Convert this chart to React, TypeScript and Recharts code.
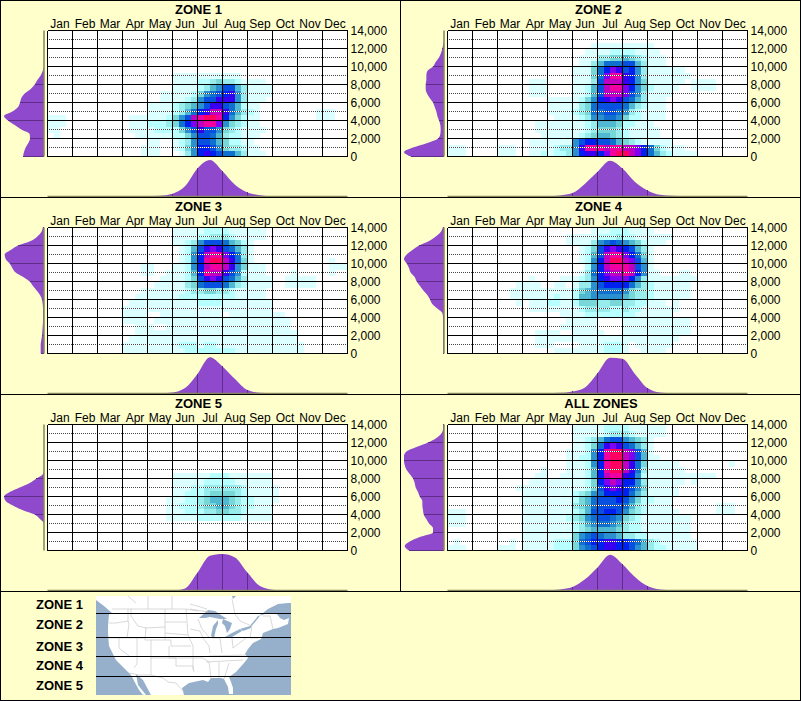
import { ComposedChart, AreaChart, Area, Bar, Cell, XAxis, YAxis, ReferenceLine } from "recharts";

const FONT = "'Liberation Sans', Arial, sans-serif";
const months = ["Jan", "Feb", "Mar", "Apr", "May", "Jun", "Jul", "Aug", "Sep", "Oct", "Nov", "Dec"];
const monthTicks = [0.5, 1.5, 2.5, 3.5, 4.5, 5.5, 6.5, 7.5, 8.5, 9.5, 10.5, 11.5];
const monthLines = [0, 1, 2, 3, 4, 5, 6, 7, 8, 9, 10, 11, 12];
const elevTicks = [0, 2000, 4000, 6000, 8000, 10000, 12000, 14000];
const elevDotted = [1000, 3000, 5000, 7000, 9000, 11000, 13000];
const elevSteps = [0, 500, 1000, 1500, 2000, 2500, 3000, 3500, 4000, 4500, 5000, 5500, 6000, 6500, 7000, 7500, 8000, 8500, 9000, 9500, 10000, 10500, 11000, 11500, 12000, 12500, 13000, 13500, 14000];
const monthSteps = [0, 0.5, 1, 1.5, 2, 2.5, 3, 3.5, 4, 4.5, 5, 5.5, 6, 6.5, 7, 7.5, 8, 8.5, 9, 9.5, 10, 10.5, 11, 11.5, 12];

// colour ramp, index is the digit used in the rows below (base 15)
const ramp = ["#ffffff", "#dcffff", "#b8ffff", "#98ecec", "#78d8d8", "#50b8d0", "#2a90d0", "#1070d0", "#0850e0", "#0020f0", "#3800f0", "#8000f0", "#c000c0", "#f000a0", "#ff0060"];

// heat rows, top (14,000) to bottom (0), 12 groups of 4 cells per month
const zone1Rows = [
  "", "", "", "", "", "", "",
  ".... .... .... .... .... 1111 1111 111.",
  ".... .... .... .... .... 1111 2234 3321 111.",
  ".... .... .... .... .... 1111 2356 8853 1111",
  ".... .... .... .... ..11 1112 4678 9a63 1111",
  ".... .... .... .... ..11 1123 688a aa63 111.",
  ".... .... .... .... 1111 2345 68aa 8752 11..",
  ".... .... .... .... 1111 2357 9acc a753 21.. .... ...1 11..",
  "111. .... .... .111 1112 468c deed 9642 11.. .... ...1 11..",
  "111. .... .... .111 2223 479b cddb 6432 11..",
  "11.. .... .... .111 1222 2468 a886 4321 111.",
  ".1.. .... .... ..11 1111 2246 8875 3221 11..",
  ".... .... .... .... 11.. 1236 8875 4221 1...",
  ".... .... .... ...1 11.. 1246 9986 4332 11..",
  ".... .... .... ...1 11.. .136 9a98 7753 111.",
];
const zone2Rows = [
  "", "",
  ".... .... .... .... .... ...1 1111 1111 1...",
  ".... .... .... .... .... ..11 1122 2211 11..",
  ".... .... .... .... .... .111 3344 5432 111.",
  ".... .... .... .... .... .113 5777 8853 111.",
  ".... .... .... .... .... 1114 79ba 8963 1111 11..",
  ".... .... .... .... .... 1114 7bdd a963 1111 111.",
  ".... .... .... .111 .... 1113 8ccc a964 1111 11.1 111.",
  ".... .... .... .111 .... 1125 8cdd b964 2111 1..1 111.",
  ".... .... .... .111 .... 1125 8ccc b863 1111",
  ".... .... .... .... 1111 1246 9aba 8753 111.",
  ".... .... .... .... 1111 1347 8888 7532 111.",
  ".... .... .... .... 1111 2347 7887 6321 111.",
  ".... .... .... .... .111 1236 6776 4221 111.",
  ".... .... .... ..11 1111 1123 5554 2211 1...",
  ".... .... .... ..11 1111 1123 4443 2111 11..",
  ".... .... .... ...1 1111 1234 5543 2111 11..",
  ".... .... .... .111 1111 6899 8875 4321 1111",
  "111. .... 111. .111 1233 6add dcdd ccb9 7421 11..",
  "111. .... 111. .112 1223 69aa 9bde ecb9 7532 1111",
];
const zone3Rows = [
  ".... .... .... .... .... 1111 1222 2111 111.",
  ".... .... .... .... .... 1111 2233 3211 111.",
  ".... .... .... .... .... 1123 6888 7542 1...",
  ".... .... .... .... .... .125 8aba 8753 1...",
  ".... .... .... .... .... .126 9cdd b973 1...",
  ".... .... .... .... .... .126 9dee ca74 1... .... .... .1..",
  ".... .... .... ...1 1... 1126 9cdd ca64 111. .... .... .111",
  ".... .... .... ...1 1..1 1125 9dcc a862 111. ...1 .... .1..",
  ".... .... .... .... ..11 1124 8aba 8753 1111 ..11 111.",
  ".... .... .... .... .111 1134 7888 7532 1111 ..11 111.",
  ".... .... .... ...1 1111 1123 3443 3211 111.",
  ".... .... .... ..11 1111 1222 2222 2211 111.",
  ".... .... .... .111 1111 1111 2222 1111 1111",
  ".... .... .... 1111 1111 1111 1111 1111 1111",
  ".... .... .... 1111 ..11 1111 1111 .111 1111 11..",
  ".... .... .... 1111 .111 1111 1111 1111 1111 111.",
  ".... .... .... ..11 1..1 1111 1111 1111 1111 111.",
  ".... .... .... ..11 1111 1111 1111 1111 1111 1111",
  ".... .... .... .111 1111 1111 1111 1111 1111 1111",
  ".... .... .... 1111 1111 1222 1221 1111 1111 1111 1...",
  ".... .... .... 1111 1111 1122 2222 2211 1111 1111 1...",
];
const zone4Rows = [
  ".... .... .... .... .... ...1 1122 2111 1...",
  ".... .... .... .... ...1 1111 2223 2211 1111",
  ".... .... .... .... ...1 1113 6787 6542 111.",
  ".... .... .... .... .... .124 8aba 9853 1...",
  ".... .... .... .... .... .125 8cdd b974 1...",
  ".... .... .... .... .... .126 9cee cb85 1...",
  ".... .... .... .... .... ..26 9cdd dc86 1...",
  ".... .... .... .... .... .137 9bcc dc96 11.. .11.",
  ".... .... .... .1.. ..11 1236 9abb b963 1111 1111",
  ".... .... ...1 111. .11. 1336 8999 9753 2111 111.",
  ".... .... ..11 1111 1111 2456 7777 6433 2111 111.",
  ".... .... ..11 1111 1211 2556 6666 5433 2111 111.",
  ".... .... ...1 .111 2211 2444 3344 3322 111. 1...",
  ".... .... .... .111 1111 1233 3322 3221 1111 1...",
  ".... .... .... .... ..11 1122 2222 2211 1111",
  ".... .... .... .... ...1 1111 .... 1111 1111 111.",
  ".... .... .... .... ..11 1111 .... 1111 1111 111.",
  ".... .... .... ..11 11.. 1111 1... 1111 1111 111.",
  ".... .... .... ..11 1111 1111 1111 1111 1111 1...",
  ".... .... .... ..11 1... .111 1222 1.11 1111",
  ".... .... .... .... .111 1111 1222 1..1 111.",
];
const zone5Rows = [
  "", "", "", "", "", "", "", "",
  ".... .... .... .... .... 1111 1122 2111 1111",
  ".... .... .... .... .... 1111 1222 2211 1111",
  ".... .... .... .... .... 1112 2333 3332 1111 1...",
  ".... .... .... .... .... 1122 2344 4432 1111 1...",
  ".... .... .... .... ...1 1122 3455 5432 2111 1...",
  ".... .... .... .... ...1 1222 3445 5432 2111",
  ".... .... .... .... ...1 1122 2334 4332 1111",
  ".... .... .... .... ...1 1111 2222 2221 1111",
  "", "", "", "", "",
];
const allRows = [
  ".... .... .... .... .... 1111 1222 2111 111.",
  ".... .... .... .... .... 1111 1233 3211 111.",
  ".... .... .... .... .... 1123 5788 6543 1...",
  ".... .... .... .... .... 1124 7aba 8753 1...",
  ".... .... .... .... ...1 1126 9dee cb85 1...",
  ".... .... .... .... ...1 1226 9dee cb85 11..",
  ".... .... .... .... ...1 1126 9dee ca74 1111 1... .... .1..",
  ".... .... .... ...1 ...1 1125 9dee ca73 1111 11..",
  ".... .... .... ..11 ..11 1125 9cdd a962 1111 1111 111.",
  ".... .... .... .111 1111 1124 9bcb 9963 1111 11.1",
  ".... .... ...1 1111 1111 1124 8aba 9864 1111 1...",
  ".... .... .... 1111 1111 2346 7999 9753 1111 1...",
  ".... .... .... 1111 1111 2457 8889 8642 2111",
  ".... .... .... 1111 1111 3457 8888 7532 1111 .... ...1 11..",
  "111. .... .... 1111 1111 2358 8998 6432 1111 1... ...1 11..",
  "111. .... .... 1111 1112 3467 8876 4321 1111 111.",
  "111. .... .... 1111 1111 2356 7765 3221 1111 111.",
  ".... .... .... 1111 1111 2345 5554 3221 1111 111.",
  ".... .... .... 1111 1111 4678 7665 3322 1111 111.",
  ".1.. .... ..1. 1111 1222 4789 9aa9 9875 3211 1111",
  "111. .... 111. 1111 1222 4678 9aa9 9865 3221 1111",
];

// left-hand profile, 0 ft upward in 500 ft steps
const zone1Left = [63, 60, 55, 47, 42, 43, 68, 88, 108, 120, 95, 78, 72, 68, 58, 40, 28, 20, 10, 4, 0, 0, 0, 0, 0, 0, 0, 0, 0];
const zone2Left = [100, 120, 93, 50, 18, 11, 10, 11, 15, 20, 23, 28, 33, 43, 51, 55, 55, 53, 53, 50, 33, 25, 15, 9, 5, 2, 0, 0, 0];
const zone3Left = [10, 10, 10, 8, 6, 5, 4, 3, 3, 3, 3, 4, 6, 12, 22, 33, 43, 62, 85, 95, 103, 115, 118, 100, 78, 40, 20, 8, 4];
const zone4Left = [3, 3, 3, 3, 3, 3, 3, 3, 3, 5, 20, 35, 42, 50, 62, 72, 82, 88, 100, 105, 112, 120, 112, 95, 75, 45, 25, 10, 4];
const zone5Left = [0, 0, 0, 0, 0, 0, 0, 12, 28, 65, 93, 115, 120, 103, 73, 43, 23, 3, 0, 0, 0, 0, 0, 0, 0, 0, 0, 0, 0];
const allLeft = [105, 118, 103, 73, 33, 33, 45, 53, 61, 63, 65, 65, 73, 78, 85, 88, 93, 103, 113, 118, 120, 120, 113, 83, 48, 23, 8, 3, 3];

// bottom profile, half-month steps
const zone1Bottom = [0, 0, 0, 0, 0, 0, 0, 0, 1, 2, 8, 30, 83, 108, 75, 35, 12, 4, 1, 0, 0, 0, 0, 0, 0];
const zone2Bottom = [0, 0, 0, 0, 0, 0, 0, 0, 1, 3, 10, 38, 73, 106, 83, 43, 18, 5, 2, 1, 0, 0, 0, 0, 0];
const zone3Bottom = [0, 0, 0, 0, 0, 0, 0, 0, 1, 1, 3, 16, 58, 107, 80, 43, 10, 2, 1, 1, 0, 0, 0, 0, 0];
const zone4Bottom = [0, 0, 0, 0, 0, 0, 0, 0, 1, 2, 6, 18, 60, 106, 103, 58, 16, 3, 1, 1, 0, 0, 0, 0, 0];
const zone5Bottom = [0, 0, 0, 0, 0, 0, 0, 0, 0, 0, 0, 6, 53, 103, 108, 98, 53, 13, 2, 0, 0, 0, 0, 0, 0];
const allBottom = [0, 0, 0, 0, 0, 0, 0, 0, 1, 3, 10, 33, 68, 106, 78, 40, 13, 3, 1, 0, 0, 0, 0, 0, 0];

const PURPLE = "#8f49cc";
const TICK_PURPLE = "#5e2e86";
const BASE = "#86865e";
const WATER = "#96b0cc";
const ROW_COUNT = 21;
const COL_COUNT = 48;

const parseRows = (rows: string[]) =>
  rows.map((r) => r.replace(/ /g, "").padEnd(COL_COUNT, ".").split("").map((c) => (c === "." ? 0 : parseInt(c, 16))));

function HeatChart({ rows }: { rows: string[] }) {
  const grid = parseRows(rows);
  const data = Array.from({ length: COL_COUNT }, (_, col) => {
    const d: Record<string, number> = { col, month: (col + 0.5) / 4 };
    for (let r = 0; r < ROW_COUNT; r++) d[`r${r}`] = 14000 / ROW_COUNT;
    return d;
  });
  const stackOrder = Array.from({ length: ROW_COUNT }, (_, i) => ROW_COUNT - 1 - i);
  return (
    <ComposedChart
      width={400}
      height={197}
      data={data}
      barCategoryGap={0}
      barGap={0}
      margin={{ top: 10.5, right: 2.5, bottom: 40.5, left: 47.5 }}
      style={{ position: "absolute", left: 0, top: 0 }}
    >
      <XAxis xAxisId="cells" dataKey="col" type="category" hide />
      <XAxis
        xAxisId="months"
        dataKey="month"
        orientation="top"
        type="number"
        domain={[0, 12]}
        ticks={monthTicks}
        interval={0}
        height={20}
        allowDataOverflow
        axisLine={false}
        tickLine={false}
        tickSize={0}
        tickMargin={3}
        tickFormatter={(v) => months[v - 0.5]}
        tick={{ fill: "#000", fontSize: 12, fontFamily: FONT }}
      />
      <YAxis
        orientation="right"
        type="number"
        domain={[0, 14000]}
        ticks={elevTicks}
        interval={0}
        width={50}
        axisLine={false}
        tickLine={false}
        tickSize={0}
        tickMargin={3}
        tickFormatter={(v) => v.toLocaleString("en-US")}
        tick={{ fill: "#000", fontSize: 12, fontFamily: FONT }}
      />
      {stackOrder.map((r) => (
        <Bar key={r} xAxisId="cells" dataKey={`r${r}`} stackId="h" isAnimationActive={false} shapeRendering="crispEdges">
          {grid[r].map((lvl, c) => (
            <Cell key={c} fill={ramp[lvl]} />
          ))}
        </Bar>
      ))}
      {elevDotted.map((v) => (
        <ReferenceLine key={`w${v}`} xAxisId="months" y={v} stroke="#fff" shapeRendering="crispEdges" />
      ))}
      {elevDotted.map((v) => (
        <ReferenceLine key={`d${v}`} xAxisId="months" y={v} stroke="#444" strokeDasharray="1 1" shapeRendering="crispEdges" />
      ))}
      {elevTicks.map((v) => (
        <ReferenceLine key={`s${v}`} xAxisId="months" y={v} stroke="#000" shapeRendering="crispEdges" />
      ))}
      {monthLines.map((m) => (
        <ReferenceLine key={`m${m}`} xAxisId="months" x={m} stroke="#000" shapeRendering="crispEdges" />
      ))}
    </ComposedChart>
  );
}

function LeftProfile({ values }: { values: number[] }) {
  const data = elevSteps.map((elev, i) => ({ elev, value: values[i] }));
  return (
    <AreaChart
      layout="vertical"
      width={48}
      height={197}
      data={data}
      margin={{ top: 30.5, right: 4, bottom: 40.5, left: 4 }}
      style={{ position: "absolute", left: 0, top: 0 }}
    >
      <XAxis type="number" domain={[0, 120]} reversed hide />
      <YAxis type="number" dataKey="elev" domain={[0, 14000]} reversed hide />
      <Area dataKey="value" type="monotone" fill={PURPLE} fillOpacity={1} stroke="none" isAnimationActive={false} />
      {elevTicks.map((t) => {
        const v = values[elevSteps.indexOf(t)];
        return v > 0 ? (
          <ReferenceLine
            key={t}
            segment={[{ x: 0, y: t }, { x: v, y: t }]}
            stroke={TICK_PURPLE}
            shapeRendering="crispEdges"
          />
        ) : null;
      })}
      <ReferenceLine x={0} stroke={BASE} strokeWidth={1.5} />
    </AreaChart>
  );
}

function BottomProfile({ values }: { values: number[] }) {
  const data = monthSteps.map((month, i) => ({ month, value: values[i] }));
  return (
    <AreaChart
      width={400}
      height={41}
      data={data}
      margin={{ top: 4, right: 52.5, bottom: 0.5, left: 47.5 }}
      style={{ position: "absolute", left: 0, top: 156 }}
    >
      <XAxis type="number" dataKey="month" domain={[0, 12]} hide />
      <YAxis type="number" domain={[0, 108]} hide />
      <Area dataKey="value" type="monotone" fill={PURPLE} fillOpacity={1} stroke="none" isAnimationActive={false} />
      {monthLines.map((m) => {
        const v = values[monthSteps.indexOf(m)];
        return v > 4 ? (
          <ReferenceLine
            key={m}
            segment={[{ x: m, y: 0 }, { x: m, y: v }]}
            stroke={TICK_PURPLE}
            shapeRendering="crispEdges"
          />
        ) : null;
      })}
      <ReferenceLine y={0} stroke={BASE} strokeWidth={1.5} />
    </AreaChart>
  );
}

function Panel({ title, x, y, rows, left, bottom, titleX = 198.5 }: { title: string; x: number; y: number; rows: string[]; left: number[]; bottom: number[]; titleX?: number }) {
  return (
    <div style={{ position: "absolute", left: x, top: y, width: 400, height: 197 }}>
      <div
        style={{
          position: "absolute",
          left: titleX - 100,
          width: 200,
          top: 2,
          textAlign: "center",
          fontFamily: FONT,
          fontWeight: "bold",
          fontSize: 13,
          lineHeight: "16px",
          color: "#000",
        }}
      >
        {title}
      </div>
      <HeatChart rows={rows} />
      <LeftProfile values={left} />
      <BottomProfile values={bottom} />
    </div>
  );
}

const legendZones = [
  { name: "ZONE 1", y: 605 },
  { name: "ZONE 2", y: 625 },
  { name: "ZONE 3", y: 647 },
  { name: "ZONE 4", y: 666 },
  { name: "ZONE 5", y: 686 },
];

// backdrop map of the zone bands, traced by hand
function ZoneMap() {
  return (
    <svg
      width={195}
      height={99}
      viewBox="0 0 195 99"
      style={{ position: "absolute", left: 96, top: 596, background: WATER }}
    >
      <path
        fill="#fff"
        d="M0 0 L136 0 L137 3 L140 0 L195 0 L195 7 L192 7 L182 8 L172 13 L167 17 L163 20 L172 17 L180 17 L184 22 L188 24 L193 22 L192 28 L182 32 L177 33 L172 35 L167 37 L165 43 L157 47 L152 53 L149 58 L152 62 L148 67 L140 76 L133 81 L135 86 L137 92 L137 98 L133 98 L132 91 L128 83 L125 82 L115 82 L112 86 L107 84 L93 87 L86 92 L88 99 L55 99 L47 84 L40 78 L42 89 L50 99 L47 99 L43 94 L35 79 L32 76 L20 64 L13 50 L12 37 L12 30 L13 18 L16 17 L8 10 L0 4 Z"
      />
      <g fill={WATER}>
        <path d="M103 22 L112 14 L119 15 L122 17 L131 23 L124 23 L114 21 L109 22 Z" />
        <path d="M122 24 L117 30 L115 40 L118 42 L120 33 L122 28 Z" />
        <path d="M127 23 L136 27 L134 33 L131 37 L129 30 L126 27 Z" />
        <path d="M129 41 L134 38 L144 33 L146 35 L136 41 Z" />
        <path d="M144 33 L154 30 L155 32 L147 35 Z" />
      </g>
      <path d="M154 31 L163 20" fill="none" stroke={WATER} strokeWidth={1.5} />
      <g fill="none" stroke="#c8c8c8" strokeWidth={0.7}>
        <path d="M52 0 L52 13 M76 0 L76 13 M32 0 L40 7" />
        <path d="M16 13 L90 13 L102 15 M94 13 L112 16 M94 8 L111 13 M136 3 L139 18 L144 25 L156 30" />
        <path d="M32 13 L32 25 L33 28 L31 42 M13 27 L20 27 L32 25" />
        <path d="M35 13 L35 20 L42 30 L50 32 L69 31 M69 13 L69 44 M69 26 L90 26 M69 37 L92 39" />
        <path d="M50 31 L49 44 L69 44 M12 42 L49 42 M41 42 L41 68 L38 72 M23 42 L23 52 L33 60" />
        <path d="M55 44 L55 79 M69 44 L75 44 L75 50 L95 50 M90 13 L91 26 L92 39 L97 50" />
        <path d="M33 77 L43 79 L55 79 L67 82 L72 86 L80 87 L88 96" />
        <path d="M73 50 L73 62 L80 62 L80 70 L97 70 L98 76 M55 62 L107 62 M97 50 L97 74" />
        <path d="M107 62 L113 66 L115 82 M110 66 L147 64 M113 60 L150 59 M123 66 L123 82 M133 67 L128 83" />
        <path d="M102 23 L106 33 L114 42 M94 33 L104 35 L107 42 L113 50 L114 57" />
        <path d="M116 42 L124 42 L126 57 M136 42 L137 52 L150 42 M156 30 L154 42 L162 42 M167 20 L174 20 L177 33" />
      </g>
      <g stroke="#000" strokeWidth={1}>
        <path d="M0 17.5 L195 17.5 M0 41.5 L195 41.5 M0 60.5 L195 60.5 M0 80.5 L195 80.5" />
      </g>
    </svg>
  );
}

export default function App() {
  return (
    <div style={{ position: "absolute", left: 0, top: 0, width: 801, height: 701, background: "#ffffcc", overflow: "hidden" }}>
      <Panel title="ZONE 1" x={0} y={0} rows={zone1Rows} left={zone1Left} bottom={zone1Bottom} />
      <Panel title="ZONE 2" x={400} y={0} rows={zone2Rows} left={zone2Left} bottom={zone2Bottom} />
      <Panel title="ZONE 3" x={0} y={197} rows={zone3Rows} left={zone3Left} bottom={zone3Bottom} />
      <Panel title="ZONE 4" x={400} y={197} rows={zone4Rows} left={zone4Left} bottom={zone4Bottom} />
      <Panel title="ZONE 5" x={0} y={394} rows={zone5Rows} left={zone5Left} bottom={zone5Bottom} />
      <Panel title="ALL ZONES" x={400} y={394} rows={allRows} left={allLeft} bottom={allBottom} titleX={201} />
      {legendZones.map((z) => (
        <div
          key={z.name}
          style={{ position: "absolute", left: 0, width: 83, top: z.y - 8, textAlign: "right", fontFamily: FONT, fontWeight: "bold", fontSize: 13, lineHeight: "16px", color: "#000" }}
        >
          {z.name}
        </div>
      ))}
      <ZoneMap />
      {/* panel frame */}
      <div style={{ position: "absolute", left: 0, top: 0, width: 799, height: 699, border: "1px solid #000" }} />
      <div style={{ position: "absolute", left: 400, top: 0, width: 1, height: 591, background: "#000" }} />
      <div style={{ position: "absolute", left: 0, top: 197, width: 801, height: 1, background: "#000" }} />
      <div style={{ position: "absolute", left: 0, top: 394, width: 801, height: 1, background: "#000" }} />
      <div style={{ position: "absolute", left: 0, top: 591, width: 801, height: 1, background: "#000" }} />
    </div>
  );
}
